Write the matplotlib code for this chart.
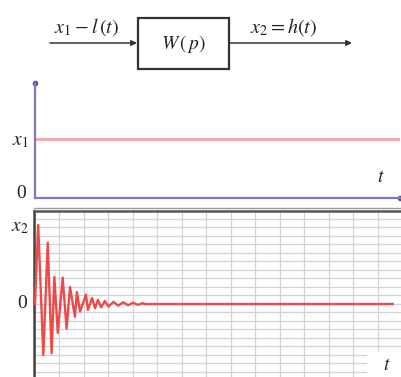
import numpy as np
import matplotlib
matplotlib.use("Agg")
import matplotlib.pyplot as plt
from matplotlib.patches import Rectangle

plt.rcParams['mathtext.fontset'] = 'stix'
plt.rcParams['font.family'] = ['Liberation Serif', 'DejaVu Serif']

# ---- data ----
x1_level = 1.0
t_input = [0.0, 14.9]

resp_t = [0.0, 0.13, 0.34, 0.52, 0.68, 0.79, 0.93, 1.13, 1.29, 1.43, 1.63, 1.71, 1.84,
          2.08, 2.16, 2.33, 2.45, 2.57, 2.70, 2.85, 3.00, 3.20, 3.40, 3.60, 3.80,
          4.00, 4.20, 4.40, 4.50, 14.6]
resp_x2 = [0.0, 9.3, -6.0, 7.2, -5.8, 3.2, -3.4, 3.1, -2.9, 2.0, -1.5, 1.4, -0.9,
           1.1, -0.7, 0.7, -0.5, 0.5, -0.4, 0.35, -0.3, 0.25, -0.2, 0.2, -0.15,
           0.15, -0.1, 0.1, 0.0, 0.0]

W, H = 401, 377
fig = plt.figure(figsize=(W / 100, H / 100), dpi=100)
fig.patch.set_facecolor('white')

def box(l, t, r, b):
    return [l / W, 1 - b / H, (r - l) / W, (b - t) / H]

# ---- top block diagram (pixel overlay) ----
dax = fig.add_axes([0, 0, 1, 1])
dax.set_xlim(0, W)
dax.set_ylim(H, 0)
dax.axis('off')
dax.set_zorder(5)
dax.patch.set_alpha(0)

txt = '#222222'
dax.add_patch(Rectangle((138, 18), 91, 51, fill=False, ec='#333333', lw=1.6))
dax.annotate('', xy=(137, 43), xytext=(50, 43),
             arrowprops=dict(arrowstyle='-|>', color='#333333', lw=1.1,
                             mutation_scale=8, shrinkA=0, shrinkB=0))
dax.annotate('', xy=(352, 43), xytext=(229, 43),
             arrowprops=dict(arrowstyle='-|>', color='#333333', lw=1.1,
                             mutation_scale=8, shrinkA=0, shrinkB=0))
dax.text(87, 27, r'$x_1 - l\,(t)$', ha='center', va='center', fontsize=14.5, color=txt)
dax.text(183, 44, r'$W\,(\,p)$', ha='center', va='center', fontsize=14, color=txt)
dax.text(284, 27, r'$x_2 = h(t)$', ha='center', va='center', fontsize=14.5, color=txt)

# ---- middle axes: input ----
purple = '#8474c4'
ax1 = fig.add_axes(box(35, 83, 400, 198))
ax1.plot(t_input, [x1_level, x1_level], color='#f5a3a3', lw=2.0)
ax1.set_xlim(0, 14.9)
ax1.set_ylim(0, 1.95)
for s in ['top', 'right']:
    ax1.spines[s].set_visible(False)
for s in ['left', 'bottom']:
    ax1.spines[s].set_color(purple)
    ax1.spines[s].set_linewidth(1.6)
ax1.set_xticks([])
ax1.set_yticks([])
ax1.plot(0, 1, marker='o', ms=3, color='#5a4a9a', transform=ax1.transAxes, clip_on=False)
ax1.plot(1, 0, marker='o', ms=3, color='#5a4a9a', transform=ax1.transAxes, clip_on=False)
dax.text(20, 141, r'$x_1$', ha='center', va='center', fontsize=14, color=txt)
dax.text(21, 193, '0', ha='center', va='center', fontsize=14, color=txt)
dax.text(381, 178, r'$t$', ha='center', va='center', fontsize=14, color=txt)
dax.plot([34, 401], [208, 208], color='#999999', lw=1.0)

# ---- bottom axes: response ----
ax2 = fig.add_axes(box(34, 211, 401, 377))
ax2.set_xlim(-0.04, 14.94)
ax2.set_ylim(-8.59, 10.94)
ax2.set_xticks(np.arange(0, 15))
ax2.set_yticks(np.arange(-8, 11))
ax2.tick_params(length=0, labelbottom=False, labelleft=False)
ax2.grid(True, color='#d2d2d2', lw=0.9)
ax2.set_axisbelow(True)
ax2.plot(resp_t, resp_x2, color='#ee4a4a', lw=1.7, zorder=3)
ax2.spines['right'].set_visible(False)
ax2.spines['bottom'].set_visible(False)
ax2.spines['top'].set_color('#555555')
ax2.spines['top'].set_linewidth(1.8)
ax2.spines['left'].set_color('#444444')
ax2.spines['left'].set_linewidth(1.8)
dax.add_patch(Rectangle((367, 352), 40, 30, fc='white', ec='none', zorder=1))
dax.text(20, 228, r'$x_2$', ha='center', va='center', fontsize=14, color=txt)
dax.text(22, 303, '0', ha='center', va='center', fontsize=14, color=txt)
dax.text(387, 365, r'$t$', ha='center', va='center', fontsize=14, color=txt, zorder=2)

fig.savefig('out.png', dpi=100, facecolor='white')
